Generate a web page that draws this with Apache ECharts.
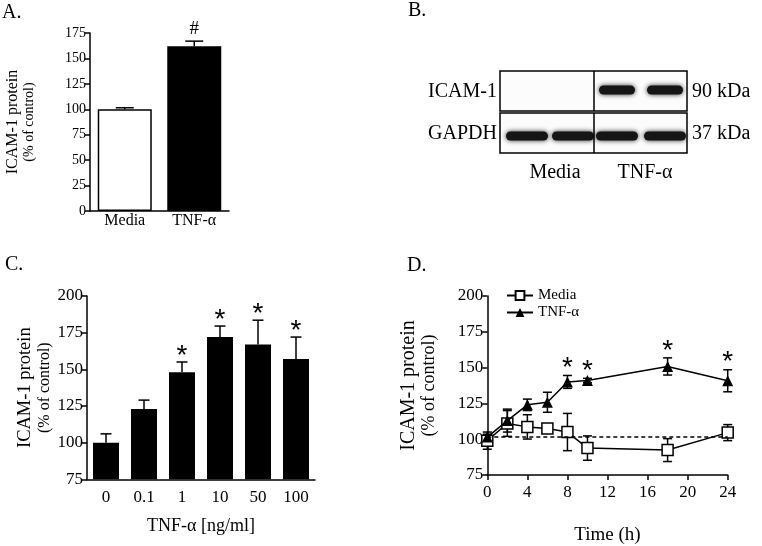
<!DOCTYPE html>
<html><head><meta charset="utf-8">
<script src="https://cdn.jsdelivr.net/npm/echarts@6/dist/echarts.min.js"></script>
<style>html,body{margin:0;padding:0;background:#fff}#c{width:762px;height:546px}</style>
</head><body><div id="c"></div>
<script>
const FONT = '"Liberation Serif", "Times New Roman", serif';
const STARFONT = '"Liberation Sans", Arial, sans-serif';

// ---- Panel A ----
const aCategories = ['Media', 'TNF-α'];
const aValues = [100, 162];
const aErrors = [1.5, 5];
const aMarks = ['', '#'];
const aYTicks = { min: 0, max: 175, interval: 25 };

// ---- Panel B (western blot) ----
const bRows = ['ICAM-1', 'GAPDH'];
const bSizes = ['90 kDa', '37 kDa'];
const bGroups = ['Media', 'TNF-α'];
const bIcamBands = [0, 0, 1, 1];
const bGapdhBands = [1, 1, 1, 1];

// ---- Panel C ----
const cCategories = ['0', '0.1', '1', '10', '50', '100'];
const cValues = [100, 123, 148, 172, 167, 157];
const cErrors = [6, 6, 7, 7.5, 16.5, 15];
const cMarks = ['', '', '*', '*', '*', '*'];
const cYTicks = { min: 75, max: 200, interval: 25 };

// ---- Panel D ----
const dTimes = [0, 2, 4, 6, 8, 10, 18, 24];
const dMedia = [99, 111, 108.6, 107.5, 105, 93.8, 92.4, 104.6];
const dMediaErr = [6, 9, 8.5, 3, 13, 8.5, 8, 5.6];
const dTnf = [101.5, 113, 124, 125.8, 140, 141, 150.8, 140.8];
const dTnfErr = [2, 8, 4, 7, 4.5, 1.5, 6, 7.7];
const dMarks = ['', '', '', '', '*', '*', '*', '*'];
const dBaseline = 102;
const dXTicks = { min: 0, max: 24, interval: 4 };
const dYTicks = { min: 75, max: 200, interval: 25 };

const axisLine = { lineStyle: { color: '#000', width: 1.5 } };
const axisTick = { length: 5, lineStyle: { color: '#000', width: 1.5 } };

function yTitle(s1, s2, gap, f1, f2, lh) {
  return {
    name: '{a|' + s1 + '}\n{b|' + s2 + '}',
    nameLocation: 'middle', nameRotate: 90, nameGap: gap,
    nameTextStyle: { rich: {
      a: { fontFamily: FONT, fontSize: f1, color: '#000', lineHeight: lh },
      b: { fontFamily: FONT, fontSize: f2, color: '#000', lineHeight: lh }
    } }
  };
}

function upperErr(capW) {
  return function (params, api) {
    const x = api.value(0), v = api.value(1), e = api.value(2);
    const b = api.coord([x, v]), t = api.coord([x, v + e]);
    const st = { stroke: '#000', lineWidth: 1.5 };
    return { type: 'group', children: [
      { type: 'line', shape: { x1: b[0], y1: b[1], x2: t[0], y2: t[1] }, style: st },
      { type: 'line', shape: { x1: t[0] - capW / 2, y1: t[1], x2: t[0] + capW / 2, y2: t[1] }, style: st }
    ] };
  };
}
function bothErr(capW) {
  return function (params, api) {
    const x = api.value(0), v = api.value(1), e = api.value(2);
    const lo = api.coord([x, v - e]), t = api.coord([x, v + e]);
    const st = { stroke: '#000', lineWidth: 1.5 };
    return { type: 'group', children: [
      { type: 'line', shape: { x1: lo[0], y1: lo[1], x2: t[0], y2: t[1] }, style: st },
      { type: 'line', shape: { x1: t[0] - capW / 2, y1: t[1], x2: t[0] + capW / 2, y2: t[1] }, style: st },
      { type: 'line', shape: { x1: lo[0] - capW / 2, y1: lo[1], x2: lo[0] + capW / 2, y2: lo[1] }, style: st }
    ] };
  };
}
function marks(list, off, font) {
  return function (params, api) {
    const m = list[params.dataIndex];
    if (!m) return null;
    const p = api.coord([api.value(0), api.value(1)]);
    return { type: 'text', x: p[0], y: p[1] - off,
      style: { text: m, textAlign: 'center', textVerticalAlign: 'middle', font: font, fill: '#000' } };
  };
}

const option = {
  animation: false,
  backgroundColor: '#fff',
  textStyle: { fontFamily: FONT },
  grid: [
    { left: 90, top: 33, width: 139, height: 178 },
    { left: 87, top: 296, width: 228, height: 183.3 },
    { left: 487.3, top: 296, width: 240.4, height: 183.3 }
  ],
  legend: {
    data: ['Media', 'TNF-α'], orient: 'vertical', left: 501, top: 283,
    itemWidth: 26, itemHeight: 11, itemGap: 2,
    textStyle: { fontFamily: FONT, fontSize: 15, color: '#000' }
  },
  xAxis: [
    { gridIndex: 0, type: 'category', data: aCategories, axisLine, axisTick: { show: false },
      axisLabel: { color: '#000', fontFamily: FONT, fontSize: 16, margin: 2 } },
    { gridIndex: 1, type: 'category', data: cCategories, axisLine, axisTick: { show: false },
      axisLabel: { color: '#000', fontFamily: FONT, fontSize: 17, margin: 10 },
      name: 'TNF-α [ng/ml]', nameLocation: 'middle', nameGap: 38,
      nameTextStyle: { fontFamily: FONT, fontSize: 18, color: '#000' } },
    { gridIndex: 2, type: 'value', min: dXTicks.min, max: dXTicks.max, interval: dXTicks.interval,
      axisLine, axisTick, splitLine: { show: false },
      axisLabel: { color: '#000', fontFamily: FONT, fontSize: 17, margin: 9 },
      name: 'Time (h)', nameLocation: 'middle', nameGap: 51,
      nameTextStyle: { fontFamily: FONT, fontSize: 19, color: '#000' } }
  ],
  yAxis: [
    Object.assign({ gridIndex: 0, type: 'value', min: aYTicks.min, max: aYTicks.max, interval: aYTicks.interval,
      axisLine: Object.assign({ show: true }, axisLine), axisTick: Object.assign({ show: true }, axisTick), splitLine: { show: false },
      axisLabel: { color: '#000', fontFamily: FONT, fontSize: 14, margin: 4 } },
      yTitle('ICAM-1 protein', '(% of control)', 52, 16, 14, 17)),
    Object.assign({ gridIndex: 1, type: 'value', min: cYTicks.min, max: cYTicks.max, interval: cYTicks.interval,
      axisLine: Object.assign({ show: true }, axisLine), axisTick: Object.assign({ show: true }, axisTick), splitLine: { show: false },
      axisLabel: { color: '#000', fontFamily: FONT, fontSize: 17, margin: 4 } },
      yTitle('ICAM-1 protein', '(% of control)', 33, 18.5, 16, 19)),
    Object.assign({ gridIndex: 2, type: 'value', min: dYTicks.min, max: dYTicks.max, interval: dYTicks.interval,
      axisLine: Object.assign({ show: true }, axisLine), axisTick: Object.assign({ show: true }, axisTick), splitLine: { show: false },
      axisLabel: { color: '#000', fontFamily: FONT, fontSize: 17, margin: 4 } },
      yTitle('ICAM-1 protein', '(% of control)', 48, 20, 18, 20.5))
  ],
  series: [
    { name: 'A-bars', type: 'bar', xAxisIndex: 0, yAxisIndex: 0, barWidth: 54,
      data: aValues.map((v, i) => ({ value: v, itemStyle: i === 0
        ? { color: '#fff', borderColor: '#000', borderWidth: 1.5 }
        : { color: '#000', borderColor: '#000', borderWidth: 1.5 } })) },
    { name: 'A-err', type: 'custom', xAxisIndex: 0, yAxisIndex: 0, z: 3, renderItem: upperErr(18),
      data: aValues.map((v, i) => [i, v, aErrors[i]]) },
    { name: 'A-marks', type: 'custom', xAxisIndex: 0, yAxisIndex: 0, z: 3,
      renderItem: marks(aMarks, 12, '19px ' + FONT),
      data: aValues.map((v, i) => [i, v + aErrors[i]]) },

    { name: 'C-bars', type: 'bar', xAxisIndex: 1, yAxisIndex: 1, barWidth: 26,
      itemStyle: { color: '#000' }, data: cValues },
    { name: 'C-err', type: 'custom', xAxisIndex: 1, yAxisIndex: 1, z: 3, renderItem: upperErr(11),
      data: cValues.map((v, i) => [i, v, cErrors[i]]) },
    { name: 'C-marks', type: 'custom', xAxisIndex: 1, yAxisIndex: 1, z: 3,
      renderItem: marks(cMarks, 6, '28px ' + STARFONT),
      data: cValues.map((v, i) => [i, v + cErrors[i]]) },

    { name: 'D-media-err', type: 'custom', xAxisIndex: 2, yAxisIndex: 2, z: 1, renderItem: bothErr(9),
      data: dTimes.map((t, i) => [t, dMedia[i], dMediaErr[i]]) },
    { name: 'D-tnf-err', type: 'custom', xAxisIndex: 2, yAxisIndex: 2, z: 1, renderItem: bothErr(9),
      data: dTimes.map((t, i) => [t, dTnf[i], dTnfErr[i]]) },
    { name: 'Media', type: 'line', xAxisIndex: 2, yAxisIndex: 2, z: 4,
      symbol: 'rect', symbolSize: 11,
      itemStyle: { color: '#fff', borderColor: '#000', borderWidth: 1.5 },
      lineStyle: { color: '#000', width: 1.5 },
      data: dTimes.map((t, i) => [t, dMedia[i]]),
      markLine: { silent: true, symbol: 'none', label: { show: false },
        lineStyle: { color: '#000', type: [4, 3], width: 1.5 },
        data: [[{ coord: [dXTicks.min, dBaseline] }, { coord: [dXTicks.max, dBaseline] }]] } },
    { name: 'TNF-α', type: 'line', xAxisIndex: 2, yAxisIndex: 2, z: 5,
      symbol: 'triangle', symbolSize: 11,
      itemStyle: { color: '#000' }, lineStyle: { color: '#000', width: 1.5 },
      data: dTimes.map((t, i) => [t, dTnf[i]]) },
    { name: 'D-marks', type: 'custom', xAxisIndex: 2, yAxisIndex: 2, z: 6,
      renderItem: marks(dMarks, 7, '28px ' + STARFONT),
      data: dTimes.map((t, i) => [t, dTnf[i] + dTnfErr[i]]) }
  ],
  graphic: []
};

// Panel letters
const g = option.graphic;
[['A.', 2, 3], ['B.', 408, 1], ['C.', 5, 255], ['D.', 407, 256]].forEach(([t, x, y]) => {
  g.push({ type: 'text', left: x, top: y, style: { text: t, font: '20px ' + FONT, fill: '#000' } });
});

// Panel B blot
const boxL = 500, boxR = 687, boxMid = 594;
const rowTop = [71, 113], rowH = 40;
const laneCenters = [527, 573, 617, 665];
rowTop.forEach((y, r) => {
  g.push({ type: 'rect', shape: { x: boxL, y: y, width: boxR - boxL, height: rowH },
    style: { fill: '#fcfcfc', stroke: '#000', lineWidth: 1.5 }, z: 10 });
  g.push({ type: 'line', shape: { x1: boxMid, y1: y, x2: boxMid, y2: y + rowH },
    style: { stroke: '#000', lineWidth: 1.5 }, z: 12 });
  g.push({ type: 'text', x: boxL - 3, y: y + rowH / 2 + 1,
    style: { text: bRows[r], font: '20px ' + FONT, fill: '#000', textAlign: 'right', textVerticalAlign: 'middle' }, z: 12 });
  g.push({ type: 'text', x: boxR + 5, y: y + rowH / 2 + 1,
    style: { text: bSizes[r], font: '20px ' + FONT, fill: '#000', textAlign: 'left', textVerticalAlign: 'middle' }, z: 12 });
  const bands = r === 0 ? bIcamBands : bGapdhBands;
  bands.forEach((b, i) => {
    if (!b) return;
    const w = r === 0 ? 36 : 42;
    const cy = y + (r === 0 ? 19 : 23);
    g.push({ type: 'rect', shape: { x: laneCenters[i] - w / 2, y: cy - 4.5, width: w, height: 9, r: 4.5 },
      style: { fill: '#151515', shadowBlur: 5, shadowColor: 'rgba(0,0,0,0.85)' }, z: 11 });
  });
});
bGroups.forEach((t, i) => {
  g.push({ type: 'text', x: i === 0 ? 555 : 645, y: 173,
    style: { text: t, font: '20px ' + FONT, fill: '#000', textAlign: 'center', textVerticalAlign: 'middle' }, z: 12 });
});

const chart = echarts.init(document.getElementById('c'), null, { renderer: 'canvas' });
chart.setOption(option);
</script>
</body></html>
